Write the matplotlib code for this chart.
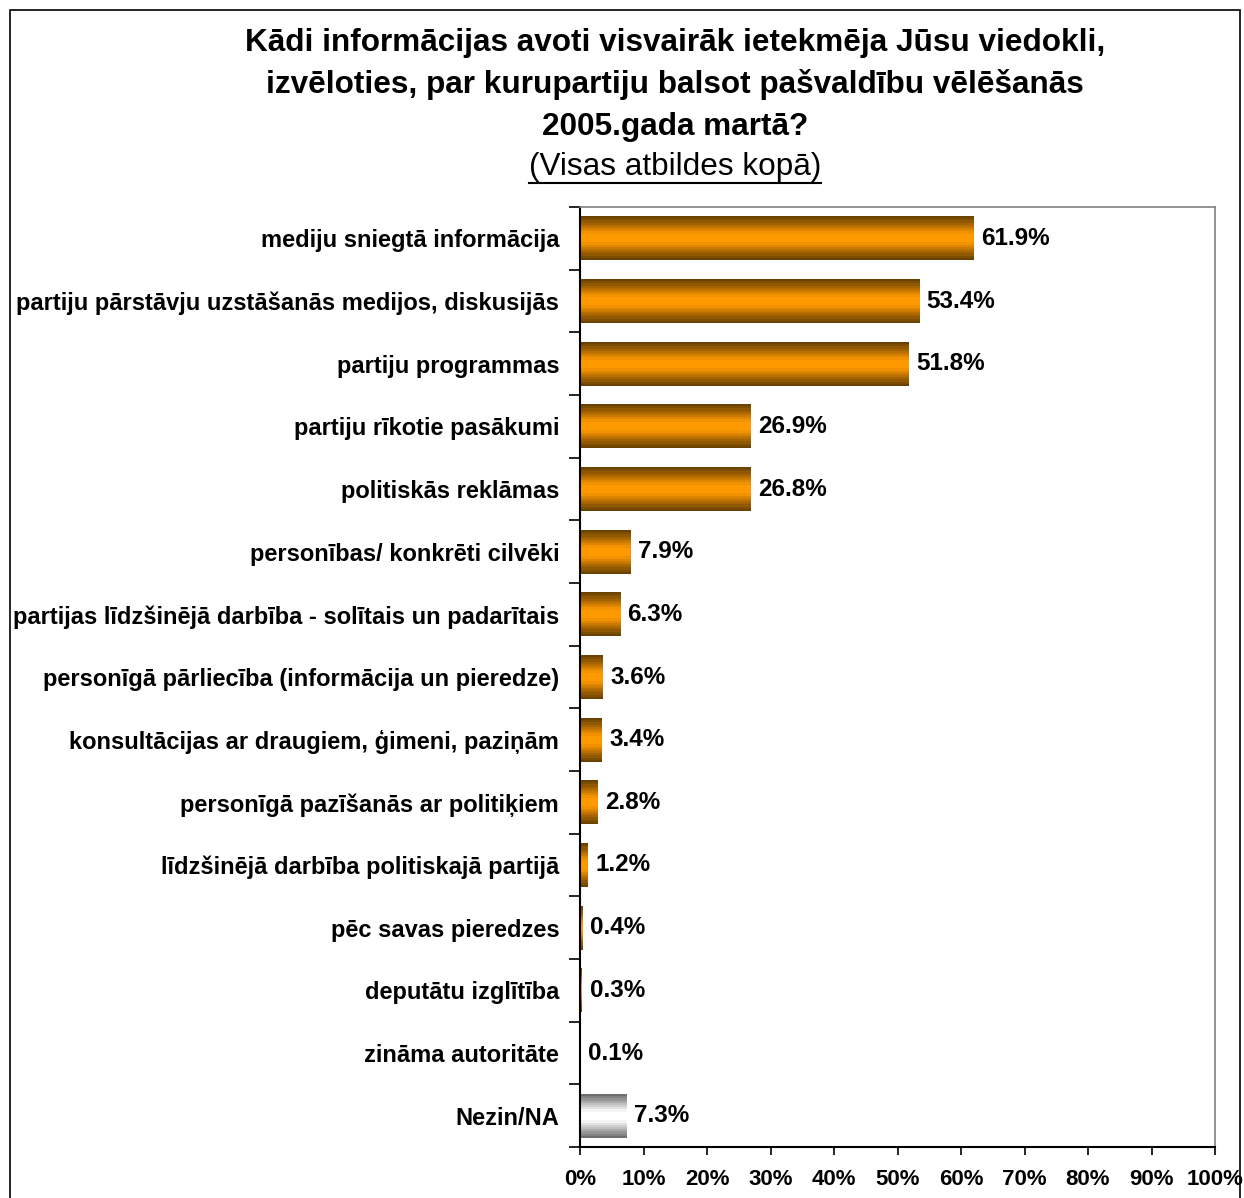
import numpy as np
import matplotlib
matplotlib.use("Agg")
import matplotlib.pyplot as plt
from matplotlib.colors import LinearSegmentedColormap
from matplotlib.patches import Rectangle

plt.rcParams['font.family'] = ['Liberation Sans', 'DejaVu Sans']

categories = [
    "mediju sniegtā informācija",
    "partiju pārstāvju uzstāšanās medijos, diskusijās",
    "partiju programmas",
    "partiju rīkotie pasākumi",
    "politiskās reklāmas",
    "personības/ konkrēti cilvēki",
    "partijas līdzšinējā darbība - solītais un padarītais",
    "personīgā pārliecība (informācija un pieredze)",
    "konsultācijas ar draugiem, ģimeni, paziņām",
    "personīgā pazīšanās ar politiķiem",
    "līdzšinējā darbība politiskajā partijā",
    "pēc savas pieredzes",
    "deputātu izglītība",
    "zināma autoritāte",
    "Nezin/NA",
]
values = [61.9, 53.4, 51.8, 26.9, 26.8, 7.9, 6.3, 3.6, 3.4, 2.8, 1.2, 0.4, 0.3, 0.1, 7.3]
is_na = [False] * 14 + [True]
xticks = list(range(0, 101, 10))

fig = plt.figure(figsize=(12.44, 11.98), dpi=100)
ax = fig.add_axes([580/1244, 1 - 1147/1198, (1215-580)/1244, (1147-207)/1198])

n = len(categories)
y = np.arange(n)
bars = ax.barh(y, values, height=0.7, color='none', edgecolor='none')

orange_cmap = LinearSegmentedColormap.from_list(
    'o', ['#6b4300', '#b56d00', '#ff9900', '#ff9900', '#b56d00', '#6b4300'])
gray_cmap = LinearSegmentedColormap.from_list(
    'g', ['#6e6e6e', '#bdbdbd', '#ffffff', '#ffffff', '#bdbdbd', '#6e6e6e'])
grad = np.linspace(0, 1, 20).reshape(-1, 1)

for b, na in zip(bars, is_na):
    x0, y0 = b.get_x(), b.get_y()
    w, h = b.get_width(), b.get_height()
    ax.imshow(grad, cmap=gray_cmap if na else orange_cmap, aspect='auto',
              extent=(x0, x0 + w, y0 + h, y0), interpolation='nearest', zorder=2)

for yi, v in zip(y, values):
    ax.text(v + 1.2, yi, f"{v:.1f}%", va='center', ha='left', fontsize=17.5,
            fontweight='bold', color='black')

ax.set_xlim(0, 100)
ax.set_ylim(n - 0.5, -0.5)
ax.set_xticks(xticks)
ax.set_xticklabels([f"{t}%" for t in xticks], fontsize=16, fontweight='bold')
ax.set_yticks(y)
ax.set_yticklabels(categories, fontsize=17, fontweight='bold')
ax.tick_params(axis='y', length=0, pad=15)
ax.set_yticks(np.arange(-0.5, n, 1), minor=True)
ax.tick_params(axis='y', which='minor', length=8, direction='out', width=1.2)
ax.tick_params(axis='x', length=6, direction='out', width=1.2, pad=10)

for s in ['left', 'bottom']:
    ax.spines[s].set_color('black')
    ax.spines[s].set_linewidth(1.5)
for s in ['top', 'right']:
    ax.spines[s].set_color('#808080')
    ax.spines[s].set_linewidth(1.2)

# outer border
fig.patches.append(Rectangle((10/1244, -0.01), (1240-10)/1244, 1 - 10/1198 + 0.01,
                             transform=fig.transFigure, fill=False,
                             edgecolor='black', linewidth=1.2))

fig.text(675/1244, 1 - 43/1198,
         "Kādi informācijas avoti visvairāk ietekmēja Jūsu viedokli,",
         ha='center', va='center', fontsize=22.7, fontweight='bold')
fig.text(675/1244, 1 - 85/1198,
         "izvēloties, par kurupartiju balsot pašvaldību vēlēšanās",
         ha='center', va='center', fontsize=22.7, fontweight='bold')
fig.text(675/1244, 1 - 127/1198, "2005.gada martā?",
         ha='center', va='center', fontsize=22.7, fontweight='bold')
sub = fig.text(675/1244, 1 - 167/1198, "(Visas atbildes kopā)",
               ha='center', va='center', fontsize=22.7)

fig.canvas.draw()
bb = sub.get_window_extent()
fig.add_artist(plt.Line2D([bb.x0 / 1244, bb.x1 / 1244],
                          [(bb.y0 - 1) / 1198, (bb.y0 - 1) / 1198],
                          transform=fig.transFigure, color='black', linewidth=1.5))

fig.savefig("out.png", dpi=100)
